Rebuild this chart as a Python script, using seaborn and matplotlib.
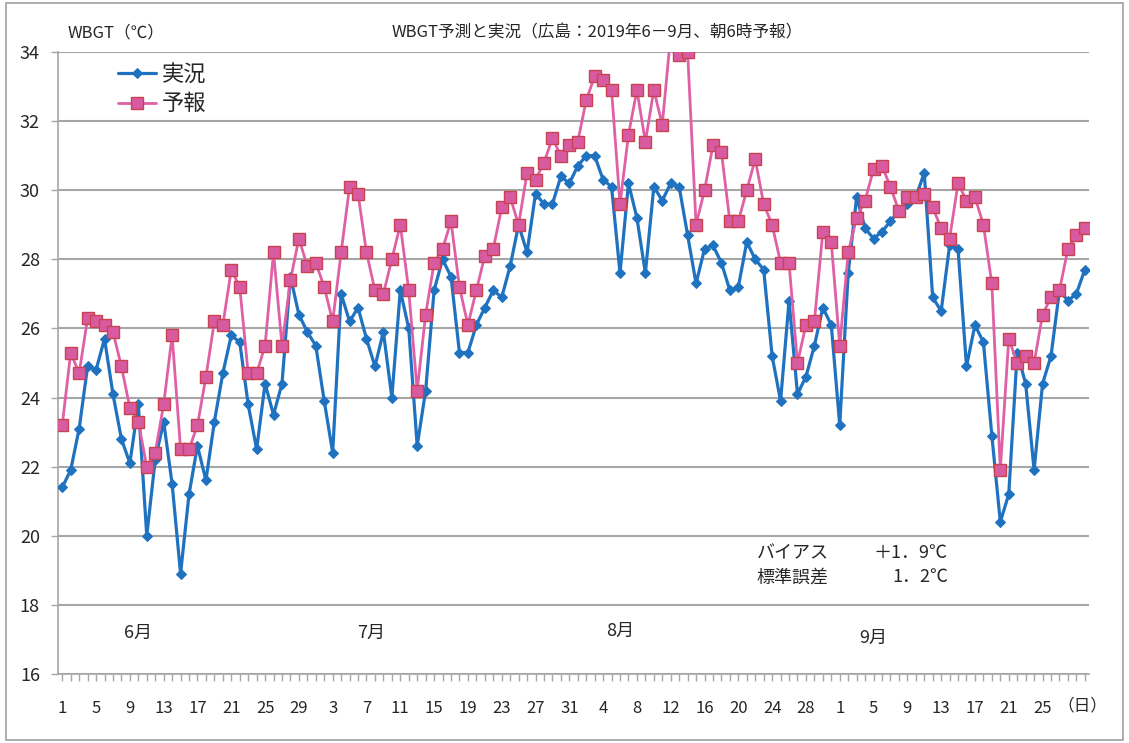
import numpy as np
import pandas as pd
import matplotlib
matplotlib.use('Agg')
import matplotlib.pyplot as plt
import seaborn as sns
from matplotlib.patches import Rectangle

# ============================================================================
# DATA  (Hiroshima WBGT, 2019-06-01 .. 2019-09-30, one value per day)
# ============================================================================
actual = [
    # June
    21.4, 21.9, 23.1, 24.9, 24.8, 25.7, 24.1, 22.8, 22.1, 23.8,
    20.0, 22.2, 23.3, 21.5, 18.9, 21.2, 22.6, 21.6, 23.3, 24.7,
    25.8, 25.6, 23.8, 22.5, 24.4, 23.5, 24.4, 27.5, 26.4, 25.9,
    # July
    25.5, 23.9, 22.4, 27.0, 26.2, 26.6, 25.7, 24.9, 25.9, 24.0,
    27.1, 26.0, 22.6, 24.2, 27.1, 28.0, 27.5, 25.3, 25.3, 26.1,
    26.6, 27.1, 26.9, 27.8, 29.0, 28.2, 29.9, 29.6, 29.6, 30.4,
    30.2,
    # August
    30.7, 31.0, 31.0, 30.3, 30.1, 27.6, 30.2, 29.2, 27.6, 30.1,
    29.7, 30.2, 30.1, 28.7, 27.3, 28.3, 28.4, 27.9, 27.1, 27.2,
    28.5, 28.0, 27.7, 25.2, 23.9, 26.8, 24.1, 24.6, 25.5, 26.6,
    26.1,
    # September
    23.2, 27.6, 29.8, 28.9, 28.6, 28.8, 29.1, 29.4, 29.6, 29.8,
    30.5, 26.9, 26.5, 28.4, 28.3, 24.9, 26.1, 25.6, 22.9, 20.4,
    21.2, 25.3, 24.4, 21.9, 24.4, 25.2, 27.1, 26.8, 27.0, 27.7,
]
forecast = [
    # June
    23.2, 25.3, 24.7, 26.3, 26.2, 26.1, 25.9, 24.9, 23.7, 23.3,
    22.0, 22.4, 23.8, 25.8, 22.5, 22.5, 23.2, 24.6, 26.2, 26.1,
    27.7, 27.2, 24.7, 24.7, 25.5, 28.2, 25.5, 27.4, 28.6, 27.8,
    # July
    27.9, 27.2, 26.2, 28.2, 30.1, 29.9, 28.2, 27.1, 27.0, 28.0,
    29.0, 27.1, 24.2, 26.4, 27.9, 28.3, 29.1, 27.2, 26.1, 27.1,
    28.1, 28.3, 29.5, 29.8, 29.0, 30.5, 30.3, 30.8, 31.5, 31.0,
    31.3,
    # August
    31.4, 32.6, 33.3, 33.2, 32.9, 29.6, 31.6, 32.9, 31.4, 32.9,
    31.9, 34.5, 33.9, 34.0, 29.0, 30.0, 31.3, 31.1, 29.1, 29.1,
    30.0, 30.9, 29.6, 29.0, 27.9, 27.9, 25.0, 26.1, 26.2, 28.8,
    28.5,
    # September
    25.5, 28.2, 29.2, 29.7, 30.6, 30.7, 30.1, 29.4, 29.8, 29.8,
    29.9, 29.5, 28.9, 28.6, 30.2, 29.7, 29.8, 29.0, 27.3, 21.9,
    25.7, 25.0, 25.2, 25.0, 26.4, 26.9, 27.1, 28.3, 28.7, 28.9,
]
days = np.arange(1, len(actual) + 1)

# x tick labels (day of month, every 4 days)
tick_days = np.arange(1, 118, 4)
tick_labels = ['1', '5', '9', '13', '17', '21', '25', '29',
               '3', '7', '11', '15', '19', '23', '27', '31',
               '4', '8', '12', '16', '20', '24', '28',
               '1', '5', '9', '13', '17', '21', '25']

month_names = ['6月', '7月', '8月', '9月']
month_pos = [10, 37.5, 67, 97]
month_y = [17.2, 17.2, 17.25, 17.05]

df = pd.DataFrame({'day': days, '実況': actual, '予報': forecast})

# ============================================================================
# VISUALIZATION
# ============================================================================
sns.set_theme(style='white')
plt.rcParams['font.family'] = ['Noto Sans CJK JP', 'DejaVu Sans']

blue = '#1f72c0'
pink = '#e060a6'

fig = plt.figure(figsize=(11.29, 7.43), dpi=100)
ax = fig.add_axes([0.0514, 0.093, 0.9132, 0.837])

sns.lineplot(data=df, x='day', y='実況', ax=ax, color=blue, linewidth=2.3,
             marker='D', markersize=5.5, markeredgecolor=blue, label='実況', zorder=3)
sns.lineplot(data=df, x='day', y='予報', ax=ax, color=pink, linewidth=2.0,
             marker='s', markersize=8.5, markerfacecolor='#d85ba2',
             markeredgecolor='#c8424f', markeredgewidth=1.0, label='予報', zorder=4)

ax.set_xlim(0.5, 122.5)
ax.set_ylim(16, 34)
ax.set_yticks(np.arange(16, 35, 2))
ax.set_xticks(tick_days)
ax.set_xticklabels(tick_labels)
ax.set_xticks(days, minor=True)
ax.set_xlabel('')
ax.set_ylabel('')

ax.grid(axis='y', color='#a6a6a6', linewidth=1.5)
ax.grid(axis='x', visible=False)
ax.set_axisbelow(True)
for side in ['top', 'right']:
    ax.spines[side].set_visible(False)
for side in ['left', 'bottom']:
    ax.spines[side].set_color('#a6a6a6')
    ax.spines[side].set_linewidth(1.2)

ax.tick_params(axis='y', which='major', left=True, length=5, width=1, color='#a6a6a6',
               pad=8, labelsize=13)
ax.tick_params(axis='x', which='both', bottom=True, length=5, width=1, color='#a6a6a6',
               pad=14, labelsize=12)

leg = ax.legend(loc='upper left', bbox_to_anchor=(0.05, 0.997), frameon=False,
                fontsize=16, handlelength=1.7, handletextpad=0.25, labelspacing=0.3,
                borderaxespad=0)

for name, xp, yp in zip(month_names, month_pos, month_y):
    ax.text(xp, yp, name, ha='center', va='center', fontsize=13)

# statistics
ax.text(83.2, 19.5, 'バイアス', fontsize=13, va='center')
ax.text(105.8, 19.5, '＋1．9℃', fontsize=13, va='center', ha='right')
ax.text(83.2, 18.8, '標準誤差', fontsize=13, va='center')
ax.text(105.8, 18.8, '1．2℃', fontsize=13, va='center', ha='right')

# titles
fig.text(68 / 1129, 1 - 33 / 743, 'WBGT（℃）', fontsize=12, va='center', ha='left')
fig.text(597 / 1129, 1 - 33 / 743, 'WBGT予測と実況（広島：2019年6－9月、朝6時予報）',
         fontsize=12, va='center', ha='center')
fig.text(1082 / 1129, 1 - 706 / 743, '（日）', fontsize=12, va='center', ha='center')

# chart area border
fig.patches.append(Rectangle((6 / 1129, 3 / 743), 1117 / 1129, 737 / 743,
                             transform=fig.transFigure, fill=False,
                             edgecolor='#a0a0a0', linewidth=1.2))

fig.savefig('out.png', dpi=100)
